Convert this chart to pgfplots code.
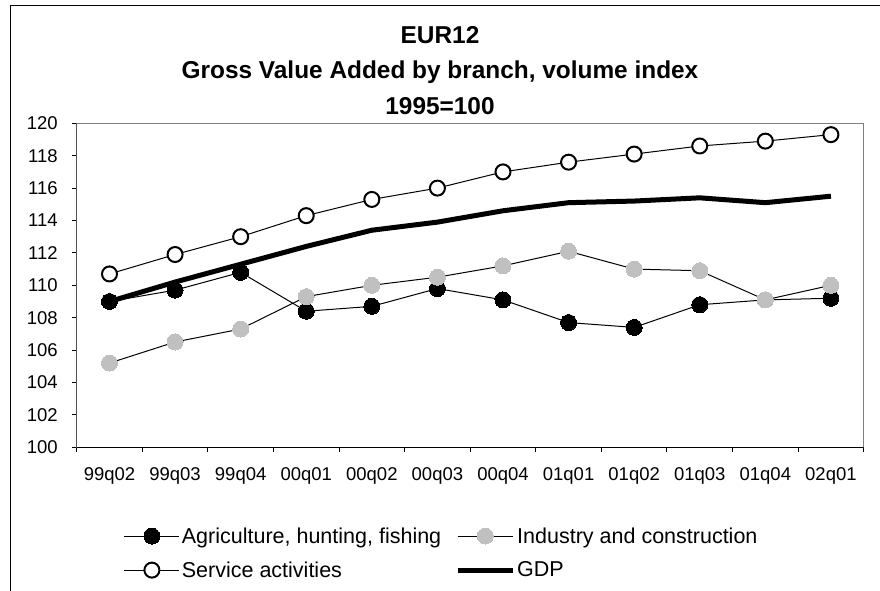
\documentclass[border=0pt]{standalone}
\usepackage{pgfplots}
\pgfplotsset{compat=1.18}
\usepackage{fontspec}
\setmainfont{Liberation Sans}
\definecolor{lgray}{HTML}{C0C0C0}
\definecolor{axgray}{HTML}{808080}
\begin{document}
\begin{tikzpicture}[x=1pt,y=1pt]
\useasboundingbox (-76.7,-143.7) rectangle (803.3,447.3);
\draw[line width=1pt] (-65.7,-150) -- (-65.7,441.3) -- (810,441.3);
\node[anchor=base, font=\bfseries\fontsize{24.4}{28}\selectfont] at (363.3,404) {EUR12};
\node[anchor=base, font=\bfseries\fontsize{24.4}{28}\selectfont] at (363.3,369) {Gross Value Added by branch, volume index};
\node[anchor=base, font=\bfseries\fontsize{24.4}{28}\selectfont] at (363.3,332.3) {1995=100};
\begin{axis}[
  at={(0pt,0pt)}, anchor=south west,
  scale only axis, width=787pt, height=324pt,
  xmin=-0.5, xmax=11.5, ymin=100, ymax=120,
  ytick={100,102,...,120},
  xtick={-0.5,0.5,...,11.5}, xticklabels={},
  extra x ticks={0,1,...,11},
  extra x tick labels={99q02,99q03,99q04,00q01,00q02,00q03,00q04,01q01,01q02,01q03,01q04,02q01},
  extra x tick style={major tick length=0pt, tick label style={yshift=-17pt}},
  tick align=outside, major tick length=5pt,
  xtick pos=bottom, ytick pos=left,
  axis line style={axgray, line width=1pt},
  tick style={black, line width=1pt},
  /pgf/number format/assume math mode=true,
  tick label style={font=\fontsize{18.5}{22}\selectfont},
  yticklabel style={xshift=-10.5pt},
  legend columns=2,
  legend cell align=left,
  legend style={draw=none, fill=none, at={(axis description cs:0,0)}, anchor=north west,
     xshift=44pt, yshift=-76pt, font=\fontsize{21.5}{25}\selectfont,
     /tikz/every even column/.append style={column sep=12pt}, row sep=13pt},
  legend image code/.code={\draw[mark repeat=2,mark phase=2] plot coordinates {(0pt,0pt)(27.5pt,0pt)(55pt,0pt)};},
]
\addplot[black, line width=1pt, mark=*, mark size=8pt, mark options={fill=black, draw=black, line width=0pt}]
 coordinates {(0,109.0)(1,109.7)(2,110.8)(3,108.4)(4,108.7)(5,109.8)(6,109.1)(7,107.7)(8,107.4)(9,108.8)(10,109.1)(11,109.2)};
\addlegendentry{Agriculture, hunting, fishing}
\addplot[black, line width=1pt, mark=*, mark size=8pt, mark options={fill=lgray, draw=lgray, line width=0pt}]
 coordinates {(0,105.2)(1,106.5)(2,107.3)(3,109.3)(4,110.0)(5,110.5)(6,111.2)(7,112.1)(8,111.0)(9,110.9)(10,109.1)(11,110.0)};
\addlegendentry{Industry and construction}
\addplot[black, line width=1pt, mark=*, mark size=7.5pt, mark options={fill=white, draw=black, line width=2pt}]
 coordinates {(0,110.7)(1,111.9)(2,113.0)(3,114.3)(4,115.3)(5,116.0)(6,117.0)(7,117.6)(8,118.1)(9,118.6)(10,118.9)(11,119.3)};
\addlegendentry{Service activities}
\addplot[black, line width=5pt, line join=round]
 coordinates {(0,109.0)(1,110.2)(2,111.3)(3,112.4)(4,113.4)(5,113.9)(6,114.6)(7,115.1)(8,115.2)(9,115.4)(10,115.1)(11,115.5)};
\addlegendentry{GDP}
\draw[black, line width=1pt] (rel axis cs:0,1) -- (rel axis cs:0,0) -- (rel axis cs:1,0);
\end{axis}
\end{tikzpicture}
\end{document}
